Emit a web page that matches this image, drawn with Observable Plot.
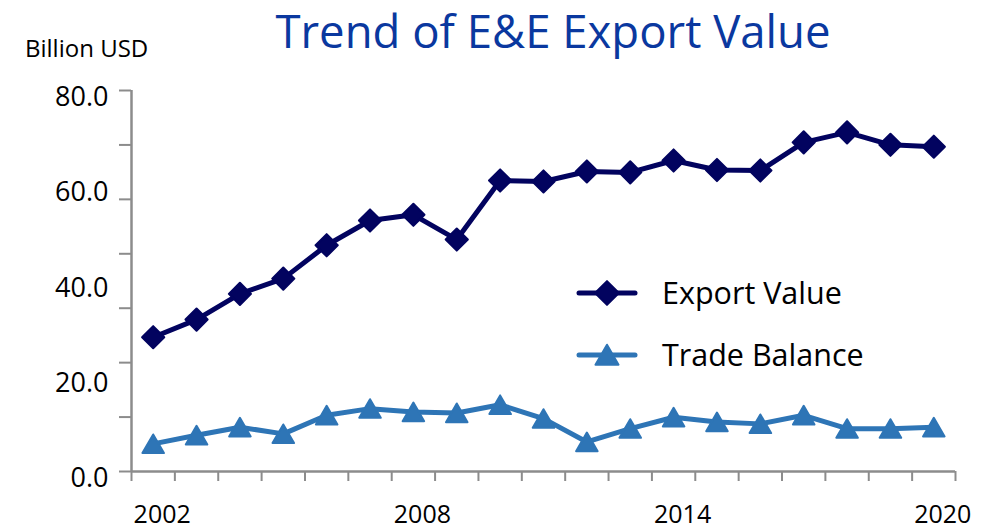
<!DOCTYPE html>
<html>
<head>
<meta charset="utf-8">
<script src="https://cdn.jsdelivr.net/npm/d3@7"></script>
<script src="https://cdn.jsdelivr.net/npm/@observablehq/plot@0.6"></script>
<style>
  body { margin: 0; background: #fff; font-family: "Open Sans", sans-serif; }
  #wrap { position: relative; width: 995px; height: 531px; overflow: hidden; background: #fff; }
  #title { position: absolute; left: 553px; top: 8px; transform: translateX(-50%); white-space: nowrap;
           font-size: 45.5px; line-height: 45.5px; color: #0A389F; }
  #unit { position: absolute; left: 25px; top: 36px; font-size: 24px; line-height: 24px; color: #000; white-space: nowrap; }
  #chart { position: absolute; left: 0; top: 0; }
  #legend { position: absolute; left: 570px; top: 268px; }
</style>
</head>
<body>
<div id="wrap">
  <div id="chart"></div>
  <div id="title">Trend of E&amp;E Export Value</div>
  <div id="unit">Billion USD</div>
  <div id="legend"></div>
</div>
<script>
// ---- data ----
const years = [2002, 2003, 2004, 2005, 2006, 2007, 2008, 2009, 2010, 2011,
               2012, 2013, 2014, 2015, 2016, 2017, 2018, 2019, 2020];
const exportValue = [28.2, 31.9, 37.3, 40.5, 47.5, 52.7, 53.9, 48.7, 61.1, 60.9,
                     63.0, 62.8, 65.3, 63.3, 63.2, 69.1, 71.2, 68.6, 68.2];
const tradeBalance = [5.8, 7.6, 9.3, 7.9, 11.8, 13.2, 12.5, 12.3, 14.0, 11.1,
                      6.2, 9.0, 11.4, 10.4, 10.0, 11.8, 9.0, 9.0, 9.3];
const xTickLabels = [2002, 2008, 2014, 2020];
const yTickLabels = [0, 20, 40, 60, 80];
const seriesNames = ["Export Value", "Trade Balance"];

const exportColor = "#02035F";
const balanceColor = "#2E75B6";
const axisColor = "#8C8C8C";

const data = years.map((year, i) => ({ year, exportValue: exportValue[i], tradeBalance: tradeBalance[i] }));
const xMin = years[0] - 0.5, xMax = years[years.length - 1] + 0.5;
const boundaries = d3.range(xMin, xMax + 0.01, 1);
// the reference's y tick marks split the 0–80 axis into 7 equal steps
const yTickMarks = d3.range(0, 8).map(i => i * 80 / 7);

const chart = Plot.plot({
  width: 995,
  height: 531,
  marginTop: 90,
  marginBottom: 60,
  marginLeft: 131,
  marginRight: 40,
  style: { fontFamily: "Open Sans, sans-serif", background: "transparent", overflow: "visible", color: "#000" },
  x: { domain: [xMin, xMax] },
  y: { domain: [0, 80] },
  marks: [
    Plot.axisY({ ticks: yTickMarks, tickSize: 12, tickFormat: () => "", stroke: axisColor, strokeWidth: 2, label: null }),
    Plot.axisY({ ticks: yTickLabels, tickSize: 0, tickPadding: 23, tickFormat: d => d.toFixed(1),
                 fontSize: 27, fill: "#000", dy: 7, label: null }),
    Plot.axisX({ ticks: boundaries, tickSize: 10, tickFormat: () => "", stroke: axisColor, strokeWidth: 2, label: null }),
    Plot.axisX({ ticks: xTickLabels, tickSize: 0, tickPadding: 34, tickFormat: d => String(d),
                 fontSize: 25, fill: "#000", dx: 9, label: null }),
    Plot.ruleX([xMin], { stroke: axisColor, strokeWidth: 2.5 }),
    Plot.ruleY([0], { stroke: axisColor, strokeWidth: 2.5 }),
    Plot.line(data, { x: "year", y: "exportValue", stroke: exportColor, strokeWidth: 5 }),
    Plot.dot(data, { x: "year", y: "exportValue", symbol: "diamond2", r: 10, fill: exportColor,
                     stroke: exportColor, strokeWidth: 2, strokeLinejoin: "round" }),
    Plot.line(data, { x: "year", y: "tradeBalance", stroke: balanceColor, strokeWidth: 5 }),
    Plot.dot(data, { x: "year", y: "tradeBalance", symbol: "triangle", r: 8, dy: 3, fill: balanceColor,
                     stroke: balanceColor, strokeWidth: 2, strokeLinejoin: "round" })
  ]
});
document.getElementById("chart").appendChild(chart);

// ---- legend ----
const legendItems = [
  { name: seriesNames[0], color: exportColor, symbol: d3.symbolDiamond2, size: 360, dy: 0 },
  { name: seriesNames[1], color: balanceColor, symbol: d3.symbolTriangle, size: 230, dy: 3 }
];
const lsvg = d3.select("#legend").append("svg").attr("width", 320).attr("height", 115)
  .style("overflow", "visible");
legendItems.forEach((item, i) => {
  const g = lsvg.append("g").attr("transform", `translate(9, ${25 + i * 62})`);
  g.append("line").attr("x1", 0).attr("x2", 56).attr("y1", 0).attr("y2", 0)
    .attr("stroke", item.color).attr("stroke-width", 5).attr("stroke-linecap", "round");
  g.append("path").attr("d", d3.symbol(item.symbol, item.size)())
    .attr("transform", `translate(28, ${item.dy})`)
    .attr("fill", item.color).attr("stroke", item.color).attr("stroke-width", 2).attr("stroke-linejoin", "round");
  g.append("text").attr("x", 83).attr("y", 11).attr("font-size", 30.5).attr("fill", "#000")
    .attr("font-family", "Open Sans, sans-serif").text(item.name);
});
</script>
</body>
</html>
